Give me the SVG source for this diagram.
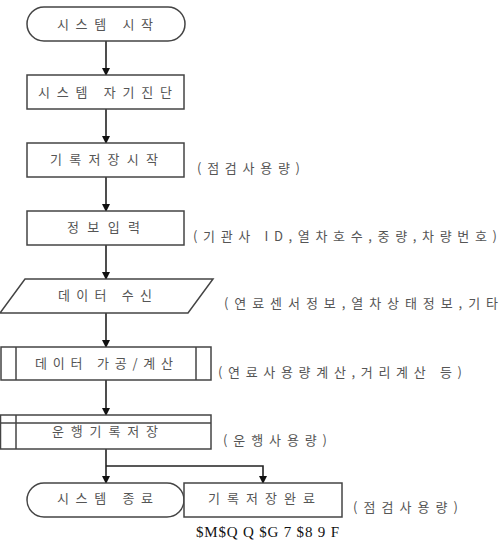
<svg xmlns="http://www.w3.org/2000/svg" width="499" height="540" viewBox="0 0 499 540">
<defs>
<marker id="ah" markerWidth="8" markerHeight="8" refX="7" refY="4" orient="auto" markerUnits="userSpaceOnUse">
<path d="M0,0 L8,4 L0,8 Z" fill="#111"/>
</marker>
<style>
.n{fill:#fff;stroke:#444;stroke-width:1.5}
.t{font-family:"Noto Sans CJK KR","Liberation Sans",sans-serif;font-size:13px;fill:#555}
.c{stroke:#222;stroke-width:1.6;fill:none}
</style>
</defs>
<rect width="499" height="540" fill="#fff"/>
<g id="connectors">
<line class="c" x1="106" y1="41" x2="106" y2="75" marker-end="url(#ah)"/>
<line class="c" x1="106" y1="109" x2="106" y2="143" marker-end="url(#ah)"/>
<line class="c" x1="106" y1="177" x2="106" y2="211" marker-end="url(#ah)"/>
<line class="c" x1="106" y1="245" x2="106" y2="279" marker-end="url(#ah)"/>
<line class="c" x1="106" y1="313" x2="106" y2="347" marker-end="url(#ah)"/>
<line class="c" x1="106" y1="380" x2="106" y2="415" marker-end="url(#ah)"/>
<line class="c" x1="106" y1="449" x2="106" y2="483" marker-end="url(#ah)"/>
<polyline class="c" points="106,466 263,466 263,483" marker-end="url(#ah)"/>
</g>
<g id="start">
<rect class="n" x="27" y="7" width="158" height="34" rx="17"/>
<text class="t" x="57" y="29" textLength="96" lengthAdjust="spacing">시스템 시작</text>
</g>
<g id="selfcheck">
<rect class="n" x="27" y="75" width="157" height="34"/>
<text class="t" x="38" y="97" textLength="134" lengthAdjust="spacing">시스템 자기진단</text>
</g>
<g id="recstart">
<rect class="n" x="27" y="143" width="157" height="34"/>
<text class="t" x="50" y="164" textLength="108" lengthAdjust="spacing">기록저장시작</text>
<text class="t" x="197" y="173" textLength="103" lengthAdjust="spacing">(점검사용량)</text>
</g>
<g id="input">
<rect class="n" x="27" y="211" width="157" height="34"/>
<text class="t" x="67" y="232" textLength="73" lengthAdjust="spacing">정보입력</text>
<text class="t" x="193" y="241" textLength="304" lengthAdjust="spacing">(기관사 ID,열차호수,중량,차량번호)</text>
</g>
<g id="receive">
<polygon class="n" points="25,279 213,279 188,313 0,313"/>
<text class="t" x="58" y="300" textLength="94" lengthAdjust="spacing">데이터 수신</text>
<text class="t" x="224" y="308" textLength="274" lengthAdjust="spacing">(연료센서정보,열차상태정보,기타</text>
</g>
<g id="process">
<rect class="n" x="1" y="347" width="210" height="33"/>
<line class="n" x1="16" y1="347" x2="16" y2="380"/>
<line class="n" x1="196" y1="347" x2="196" y2="380"/>
<text class="t" x="35" y="368" textLength="138" lengthAdjust="spacing">데이터 가공/계산</text>
<text class="t" x="218" y="377" textLength="244" lengthAdjust="spacing">(연료사용량계산,거리계산 등)</text>
</g>
<g id="store">
<rect class="n" x="0.5" y="415" width="210.5" height="34"/>
<line class="n" x1="0.5" y1="423" x2="211" y2="423"/>
<line class="n" x1="16" y1="415" x2="16" y2="449"/>
<text class="t" x="52" y="436" textLength="106" lengthAdjust="spacing">운행기록저장</text>
<text class="t" x="223" y="445" textLength="104" lengthAdjust="spacing">(운행사용량)</text>
</g>
<g id="end">
<rect class="n" x="27" y="483" width="157" height="34" rx="17"/>
<text class="t" x="57" y="503" textLength="96" lengthAdjust="spacing">시스템 종료</text>
</g>
<g id="recdone">
<rect class="n" x="184" y="483" width="158" height="34"/>
<text class="t" x="208" y="503" textLength="107" lengthAdjust="spacing">기록저장완료</text>
<text class="t" x="353" y="512" textLength="105" lengthAdjust="spacing">(점검사용량)</text>
</g>
<text x="196" y="537" font-family="Liberation Serif,serif" font-size="15" fill="#111" textLength="143" lengthAdjust="spacing">$M$Q Q $G 7 $8 9 F</text>
</svg>
